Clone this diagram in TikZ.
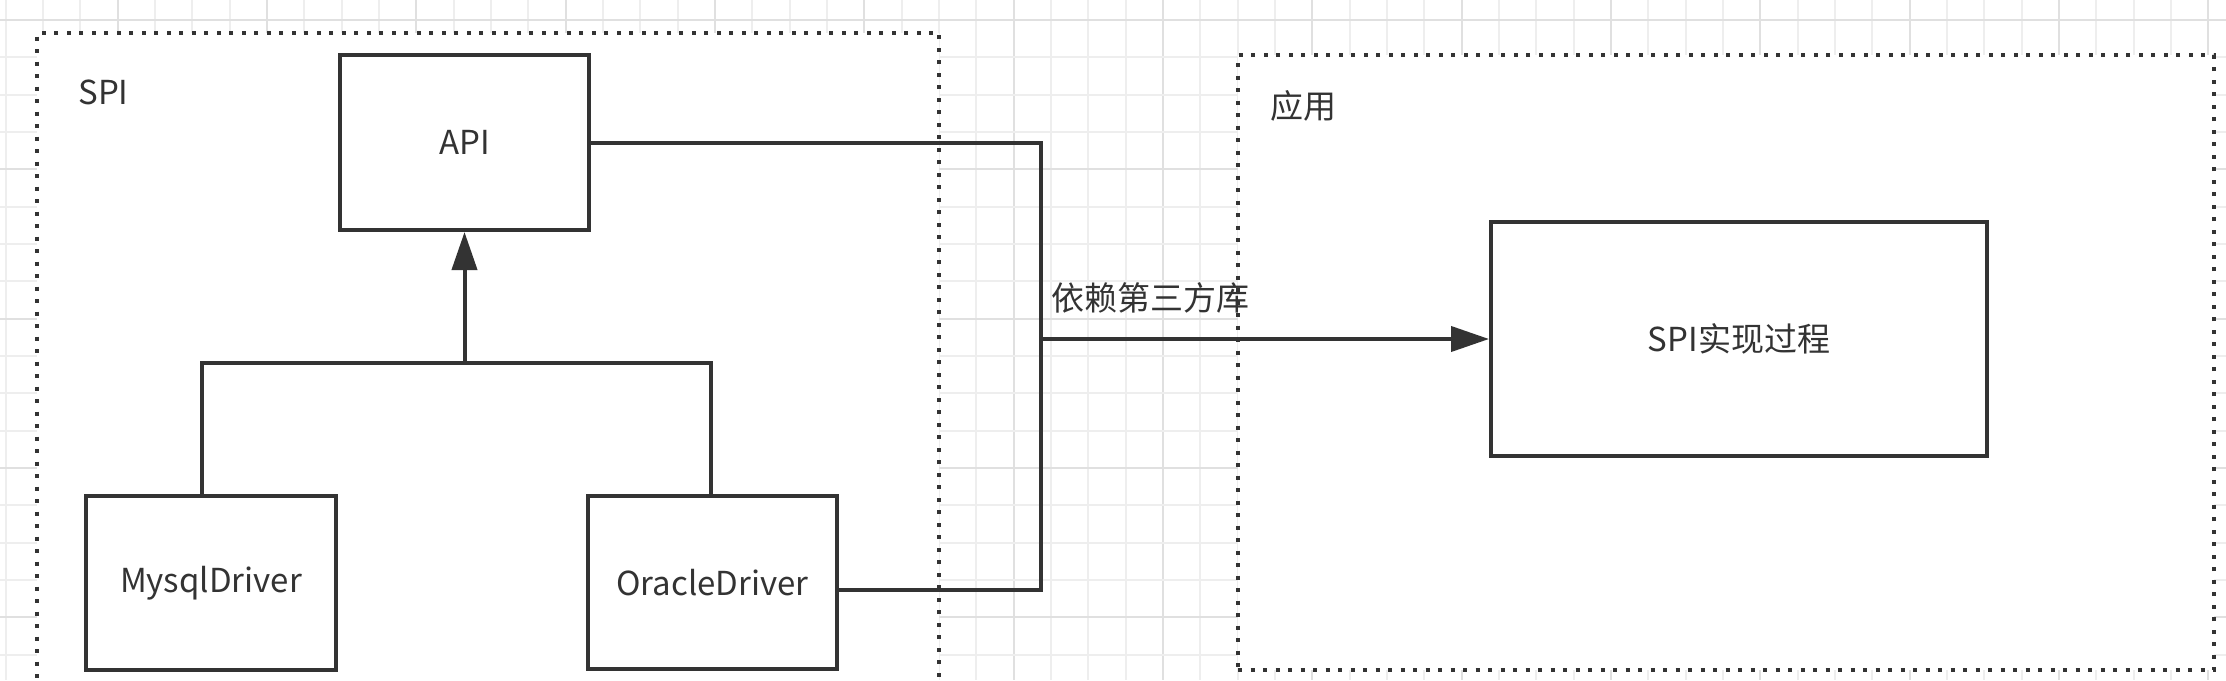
\documentclass[tikz,border=0pt]{standalone}
\usepackage{fontspec}
\setmainfont{Noto Sans CJK SC}
\usetikzlibrary{arrows.meta}
\definecolor{ink}{HTML}{333333}
\definecolor{gridminor}{HTML}{EEEEEE}
\definecolor{gridmajor}{HTML}{E0E0E0}
\begin{document}
\begin{tikzpicture}[x=0.5pt,y=-0.5pt,
  font=\fontsize{16.5pt}{20pt}\selectfont,
  box/.style={draw=ink, line width=2pt, fill=white, inner sep=0pt, text=ink},
  group/.style={draw=ink, line width=2pt, dash pattern=on 2pt off 4.25pt, fill=white, inner sep=0pt},
  lbl/.style={anchor=west, inner sep=0pt, text=ink},
  conn/.style={draw=ink, line width=2pt},
  arr/.style={conn, -{Triangle[length=19pt,width=12.5pt]}}]
\useasboundingbox (0,0) rectangle (2226,680);
\fill[white] (0,0) rectangle (2226,680);
% grid
\foreach \k in {0,...,59}{
  \pgfmathsetmacro{\gx}{5.5+37.333*\k}
  \pgfmathtruncatemacro{\m}{mod(\k,4)}
  \ifnum\m=3 \draw[gridmajor, line width=1pt] (\gx,0) -- (\gx,680);
  \else \draw[gridminor, line width=1pt] (\gx,0) -- (\gx,680); \fi
}
\foreach \k in {0,...,17}{
  \pgfmathsetmacro{\gy}{20+37.333*\k}
  \pgfmathtruncatemacro{\m}{mod(\k,4)}
  \ifnum\m=0 \draw[gridmajor, line width=1pt] (0,\gy) -- (2226,\gy);
  \else \draw[gridminor, line width=1pt] (0,\gy) -- (2226,\gy); \fi
}
% groups
\node[group, minimum width=451pt, minimum height=333.5pt] (gspi) at (488,366) {};
\node[group, minimum width=488pt, minimum height=307.5pt] (gapp) at (1726,362.5) {};
\node[lbl] (tspi) at (78,92) {SPI};
\node[lbl] (tapp) at (1270,106) {应用};
% boxes
\node[box, minimum width=124.5pt, minimum height=87.5pt] (api) at (464.5,142.5) {API};
\node[box, minimum width=125pt, minimum height=87pt] (mysql) at (211,583) {MysqlDriver};
\node[box, minimum width=124.5pt, minimum height=86.5pt] (oracle) at (712.5,582.5) {OracleDriver};
\node[box, minimum width=248pt, minimum height=116.75pt] (impl) at (1739,339) {SPI实现过程};
% connectors
\coordinate (bus) at (464.5,363);
\coordinate (mtop) at (201.5,496);
\coordinate (otop) at (711,496);
\draw[conn] (mtop) |- (bus);
\draw[conn] (otop) |- (bus);
\draw[arr] (bus) -- (api.south);
\coordinate (j) at (1041,339);
\coordinate (ob) at (1041,590);
\draw[conn] (api.east) -| (j);
\draw[conn] (ob -| oracle.east) -- (ob) -- (j);
\draw[arr] (j) -- (impl.west);
\node[lbl] (tdep) at (1051,298) {依赖第三方库};
\end{tikzpicture}
\end{document}
